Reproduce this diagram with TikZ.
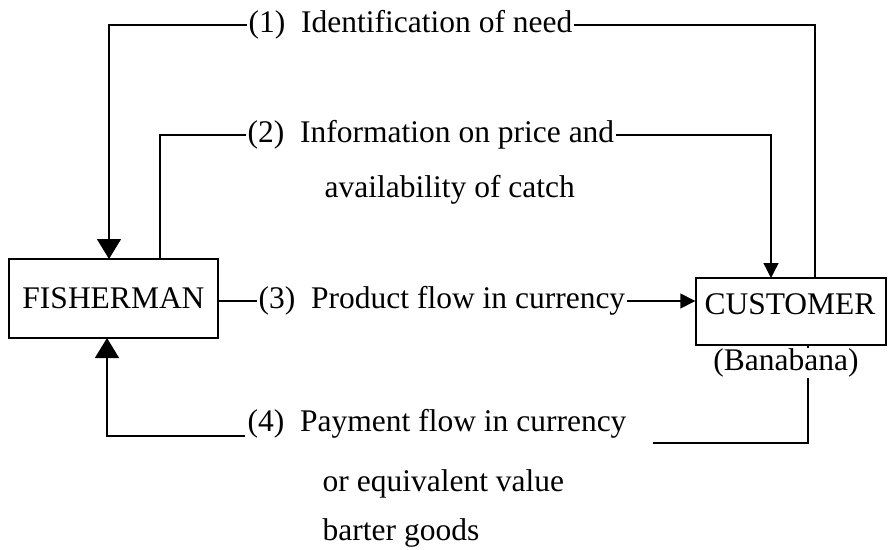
\documentclass[tikz,border=0pt]{standalone}
\usepackage{fontspec}
\setmainfont{Liberation Serif}
\usetikzlibrary{arrows.meta}
\begin{document}
\begin{tikzpicture}[x=1pt,y=1pt,
  every node/.style={font=\fontsize{31.5}{36}\selectfont},
  box/.style={draw,line width=1.4pt,inner sep=0pt},
  lbl/.style={inner sep=1.5pt,anchor=west},
  conn/.style={line width=1.4pt},
  bigarr/.style={conn,-{Triangle[width=24pt,length=20pt]}},
  smallarr/.style={conn,-{Triangle[width=15pt,length=15pt]}}]
\useasboundingbox (0,0) rectangle (888,-549);
% boxes
\node[box,minimum width=209pt,minimum height=79pt] (fish) at (113.5,-298.5) {FISHERMAN};
\node[box,minimum width=190pt,minimum height=67pt] (cust) at (791,-311.5) {};
\node[inner sep=0pt] (custtxt) at (790,-304) {CUSTOMER};
% labels
\node[lbl] (t1) at (247,-25) {(1)\ \ Identification of need};
\node[lbl] (t2) at (246,-135) {(2)\ \ Information on price and};
\node[lbl] (t2b) at (323,-190) {availability of catch};
\node[lbl] (t3) at (257,-301) {(3)\ \ Product flow in currency};
\node[lbl] (t4) at (246,-424) {(4)\ \ Payment flow in currency};
\node[lbl] (t4b) at (321,-484) {or equivalent value};
\node[lbl] (t4c) at (321,-533) {barter goods};
% anchor coordinates
\coordinate (f1) at (109,-259);
\coordinate (f2) at (160,-259);
\coordinate (f4) at (107,-338);
\coordinate (c1) at (815,-278);
\coordinate (c2) at (771,-278);
\coordinate (c4) at (808,-345);
\coordinate (e4) at (653,-443);
\coordinate (s4) at (245,-436);
% connector (1)
\draw[bigarr] (t1.west) -| (f1);
\draw[conn] (t1.east) -| (c1);
% connector (2)
\draw[conn] (f2) |- (t2.west);
\draw[smallarr] (t2.east) -| (c2);
% connector (3)
\draw[conn] (fish.east |- t3.west) -- (t3.west);
\draw[smallarr] (t3.east) -- (cust.west |- t3.east);
% connector (4)
\draw[conn] (c4) |- (e4);
\draw[bigarr] (s4) -| (f4);
\node[fill=white,inner sep=1pt] (bana) at (786,-363) {(Banabana)};
\end{tikzpicture}
\end{document}
